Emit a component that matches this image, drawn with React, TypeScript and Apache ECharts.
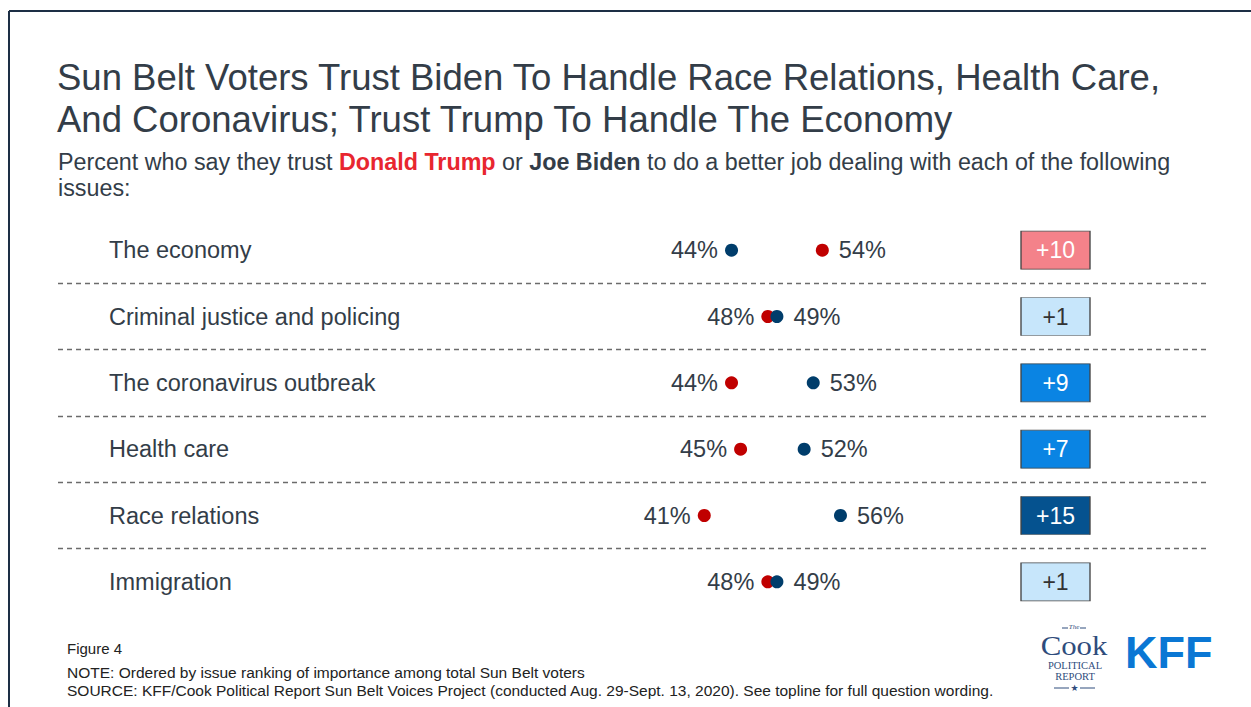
import React, { useEffect, useRef } from "react";
import * as echarts from "echarts";

const categories = [
  "The economy",
  "Criminal justice and policing",
  "The coronavirus outbreak",
  "Health care",
  "Race relations",
  "Immigration",
];
const trumpValues = [54, 48, 44, 45, 41, 48];
const bidenValues = [44, 49, 53, 52, 56, 49];
const gapValues = [10, 1, 9, 7, 15, 1];

const FONT = "Liberation Sans, Arial, sans-serif";
const SERIF = "Liberation Serif, serif";
const TEXT = "#333d48";
const RED = "#c00000";
const NAVY = "#003d6b";
const LOGO = "#2f4c7c";

function badgeColor(i: number): string {
  if (trumpValues[i] > bidenValues[i]) return "#f4828a";
  const g = gapValues[i];
  if (g >= 15) return "#05528f";
  if (g >= 5) return "#0a84e3";
  return "#c7e6fb";
}
function badgeText(i: number): string {
  const g = gapValues[i];
  if (trumpValues[i] > bidenValues[i]) return "#ffffff";
  return g >= 5 ? "#ffffff" : "#333333";
}
function labelSide(isLeft: boolean) {
  return isLeft ? { position: "left", distance: 7 } : { position: "right", distance: 10 };
}

export default function App() {
  const ref = useRef<HTMLDivElement>(null);
  useEffect(() => {
    if (!ref.current) return;
    const chart = echarts.init(ref.current, undefined, { renderer: "svg" });
    const gridTop = 217;
    const gridHeight = 398;
    const dotLabel = {
      show: true,
      formatter: (p: any) => p.value[0] + "%",
      fontSize: 23.5,
      color: TEXT,
      fontFamily: FONT,
    };
    const option: any = {
      animation: false,
      backgroundColor: "#ffffff",
      title: [
        {
          text: "Sun Belt Voters Trust Biden To Handle Race Relations, Health Care,\nAnd Coronavirus; Trust Trump To Handle The Economy",
          left: 52,
          top: 51,
          textStyle: {
            fontSize: 36.5,
            lineHeight: 42,
            fontWeight: "normal",
            color: TEXT,
            fontFamily: FONT,
          },
        },
        {
          text:
            "{a|Percent who say they trust }{r|Donald Trump}{a| or }{b|Joe Biden}{a| to do a better job dealing with each of the following}\n{a|issues:}",
          left: 53,
          top: 144,
          textStyle: {
            fontSize: 23.3,
            lineHeight: 26,
            fontWeight: "normal",
            fontFamily: FONT,
            color: TEXT,
            rich: {
              a: { fontSize: 23.3, lineHeight: 26, color: TEXT, fontWeight: "normal", fontFamily: FONT },
              r: { fontSize: 23.3, lineHeight: 26, color: "#e8262f", fontWeight: "bold", fontFamily: FONT },
              b: { fontSize: 23.3, lineHeight: 26, color: TEXT, fontWeight: "bold", fontFamily: FONT },
            },
          },
        },
      ],
      grid: [
        { left: 58, width: 1152, top: gridTop, height: gridHeight },
        { left: 332, width: 908, top: gridTop, height: gridHeight },
        { left: 1021, width: 69, top: gridTop, height: gridHeight },
      ],
      xAxis: [
        { gridIndex: 0, type: "value", min: 0, max: 1, show: false },
        { gridIndex: 1, type: "value", min: 0, max: 100, show: false },
        { gridIndex: 2, type: "category", data: ["gap"], show: false },
      ],
      yAxis: [
        {
          gridIndex: 0,
          type: "category",
          data: categories,
          inverse: true,
          axisLine: { show: false },
          axisTick: { show: false },
          axisLabel: {
            align: "left",
            margin: -51,
            fontSize: 23.5,
            color: TEXT,
            fontFamily: FONT,
            interval: 0,
          },
          splitLine: {
            show: true,
            interval: 0,
            showMinLine: false,
            showMaxLine: false,
            lineStyle: { type: [5, 4], color: "#6b6b6b", width: 1.3 },
          },
        },
        { gridIndex: 1, type: "category", data: categories, inverse: true, show: false },
        { gridIndex: 2, type: "category", data: categories, inverse: true, show: false },
      ],
      series: [
        {
          name: "Donald Trump",
          type: "scatter",
          xAxisIndex: 1,
          yAxisIndex: 1,
          symbolSize: 13,
          itemStyle: { color: RED, opacity: 1 },
          label: dotLabel,
          data: trumpValues.map((v, i) => ({
            value: [v, categories[i]],
            label: labelSide(v < bidenValues[i]),
          })),
        },
        {
          name: "Joe Biden",
          type: "scatter",
          xAxisIndex: 1,
          yAxisIndex: 1,
          symbolSize: 13,
          itemStyle: { color: NAVY, opacity: 1 },
          label: dotLabel,
          data: bidenValues.map((v, i) => ({
            value: [v, categories[i]],
            label: labelSide(v < trumpValues[i]),
          })),
        },
        {
          name: "Gap",
          type: "scatter",
          xAxisIndex: 2,
          yAxisIndex: 2,
          symbol: "rect",
          symbolSize: [69, 38],
          itemStyle: { borderColor: "#444444", borderWidth: 1, opacity: 1 },
          label: {
            show: true,
            position: "inside",
            fontSize: 23,
            fontFamily: FONT,
            formatter: (p: any) => "+" + gapValues[p.dataIndex],
          },
          data: gapValues.map((g, i) => ({
            value: ["gap", categories[i]],
            itemStyle: { color: badgeColor(i) },
            label: { color: badgeText(i) },
          })),
        },
      ],
      graphic: [
        { type: "line", shape: { x1: 9, y1: 11, x2: 1251, y2: 11 }, style: { stroke: "#1d2f45", lineWidth: 2 } },
        { type: "line", shape: { x1: 9, y1: 11, x2: 9, y2: 707 }, style: { stroke: "#1d2f45", lineWidth: 2 } },
        { type: "text", left: 67, top: 641, style: { text: "Figure 4", fontSize: 15, fill: "#222222", fontFamily: FONT } },
        {
          type: "text",
          left: 67,
          top: 664,
          style: { text: "NOTE: Ordered by issue ranking of importance among total Sun Belt voters", fontSize: 15.5, fill: "#222222", fontFamily: FONT },
        },
        {
          type: "text",
          left: 67,
          top: 682,
          style: {
            text: "SOURCE: KFF/Cook Political Report Sun Belt Voices Project (conducted Aug. 29-Sept. 13, 2020). See topline for full question wording.",
            fontSize: 15.5,
            fill: "#222222",
            fontFamily: FONT,
          },
        },
        // Cook Political Report logo
        { type: "text", x: 1074, y: 627, style: { text: "The", fontSize: 7, lineHeight: 7, fontStyle: "italic", fill: LOGO, align: "center", verticalAlign: "middle", fontFamily: SERIF } },
        { type: "line", shape: { x1: 1062, y1: 628, x2: 1068, y2: 628 }, style: { stroke: LOGO, lineWidth: 1 } },
        { type: "line", shape: { x1: 1080, y1: 628, x2: 1086, y2: 628 }, style: { stroke: LOGO, lineWidth: 1 } },
        { type: "text", x: 1074, y: 645, scaleX: 1.1, style: { text: "Cook", fontSize: 28, lineHeight: 24, fill: LOGO, align: "center", verticalAlign: "middle", fontFamily: SERIF } },
        { type: "text", x: 1075, y: 665, style: { text: "POLITICAL", fontSize: 10.5, lineHeight: 9, fill: LOGO, align: "center", verticalAlign: "middle", fontFamily: SERIF } },
        { type: "text", x: 1075, y: 676, style: { text: "REPORT", fontSize: 10.5, lineHeight: 9, fill: LOGO, align: "center", verticalAlign: "middle", fontFamily: SERIF } },
        { type: "line", shape: { x1: 1054, y1: 688, x2: 1069, y2: 688 }, style: { stroke: LOGO, lineWidth: 1 } },
        { type: "line", shape: { x1: 1080, y1: 688, x2: 1095, y2: 688 }, style: { stroke: LOGO, lineWidth: 1 } },
        { type: "text", x: 1074.5, y: 688, style: { text: "★", fontSize: 9, lineHeight: 9, fill: LOGO, align: "center", verticalAlign: "middle", fontFamily: "DejaVu Sans, sans-serif" } },
        // KFF logo
        { type: "text", x: 1125, y: 652, style: { text: "KFF", fontSize: 45, fontWeight: "bold", fill: "#0a77d4", verticalAlign: "middle", fontFamily: FONT } },
      ],
    };
    chart.setOption(option);
    return () => chart.dispose();
  }, []);
  return (
    <div
      ref={ref}
      style={{ position: "fixed", left: 0, top: 0, width: 1251, height: 707, background: "#fff" }}
    />
  );
}
